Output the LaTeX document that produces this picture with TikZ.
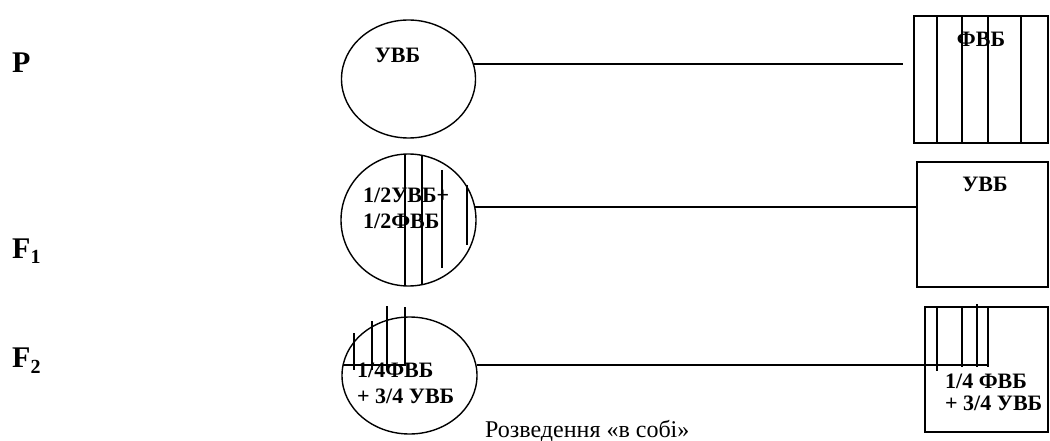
\documentclass[tikz,border=0pt]{standalone}
\usepackage{fontspec}
\setmainfont{Liberation Serif}
\usetikzlibrary{shapes.geometric}
\tikzset{
  ln/.style={line width=1.4pt},
  oval/.style={draw, ln, ellipse, inner sep=0pt},
  box/.style={draw, ln, rectangle, inner sep=0pt},
  lbl/.style={font=\fontsize{22}{26}\selectfont\bfseries, inner sep=0pt},
  side/.style={font=\fontsize{30}{32}\selectfont\bfseries, inner sep=0pt, anchor=base west},
  captxt/.style={font=\fontsize{24}{28}\selectfont, inner sep=0pt, anchor=base west},
}
\begin{document}
\begin{tikzpicture}[x=1pt,y=-1pt]
\useasboundingbox (0,0) rectangle (1050,441);
% side labels
\node[side] (lP) at (12,73) {P};
\node[side] (lF1) at (12,258) {F\raisebox{-0.2em}{\fontsize{20}{21}\selectfont 1}};
\node[side] (lF2) at (12,367) {F\raisebox{-0.2em}{\fontsize{20}{21}\selectfont 2}};

% ---- row P ----
\node[oval, minimum width=134pt, minimum height=118pt] (cP) at (408.5,79) {};
\node[box, minimum width=134pt, minimum height=127pt] (rP) at (981,79.5) {};
\foreach \x in {937,962,988,1021} \draw[ln] (\x,16) -- (\x,143);
\node[lbl, anchor=base] (tP1) at (397.5,63) {УВБ};
\node[lbl, anchor=base] (tP2) at (981,47) {ФВБ};
\coordinate (eP) at (903,64);
\draw[ln] (cP.13) -- (cP.13 -| eP);

% ---- row F1 ----
\node[oval, minimum width=135pt, minimum height=132pt] (cF1) at (408.5,220) {};
\draw[ln] (405,154) -- (405,286);
\draw[ln] (422,156) -- (422,285);
\draw[ln] (442,170) -- (442,268);
\draw[ln] (467,185) -- (467,245);
\node[lbl, anchor=base west] (tF1a) at (363,203) {1/2УВБ+};
\node[lbl, anchor=base west] (tF1b) at (363,228) {1/2ФВБ};
\node[box, minimum width=131pt, minimum height=125pt] (rF1) at (982.5,224.5) {};
\node[lbl, anchor=base] (tF1c) at (985,192) {УВБ};
\draw[ln] (cF1.11) -- (cF1.11 -| rF1.west);

% ---- row F2 ----
\node[oval, minimum width=135pt, minimum height=117pt] (cF2) at (409.5,375.5) {};
\draw[ln] (343,365) -- (405,365);
\draw[ln] (354,333) -- (354,370);
\draw[ln] (372,321) -- (372,370);
\draw[ln] (387,306) -- (387,370);
\draw[ln] (405,307) -- (405,366);
\node[lbl, anchor=base west] (tF2a) at (357,377) {1/4ФВБ};
\node[lbl, anchor=base west] (tF2b) at (357,403) {+ 3/4 УВБ};
\node[box, minimum width=123pt, minimum height=125pt] (rF2) at (986.5,369.5) {};
\draw[ln] (937,307) -- (937,371);
\draw[ln] (962,307) -- (962,367);
\draw[ln] (977,304) -- (977,367);
\draw[ln] (988,307) -- (988,367);
\coordinate (eF2) at (988,365);
\draw[ln] (cF2.9) -- (cF2.9 -| eF2);
\node[lbl, anchor=base west] (tF2c) at (945,388) {1/4 ФВБ};
\node[lbl, anchor=base west] (tF2d) at (945,410) {+ 3/4 УВБ};

% caption
\node[captxt] (capt) at (485,437) {Розведення «в собі»};
\end{tikzpicture}
\end{document}
